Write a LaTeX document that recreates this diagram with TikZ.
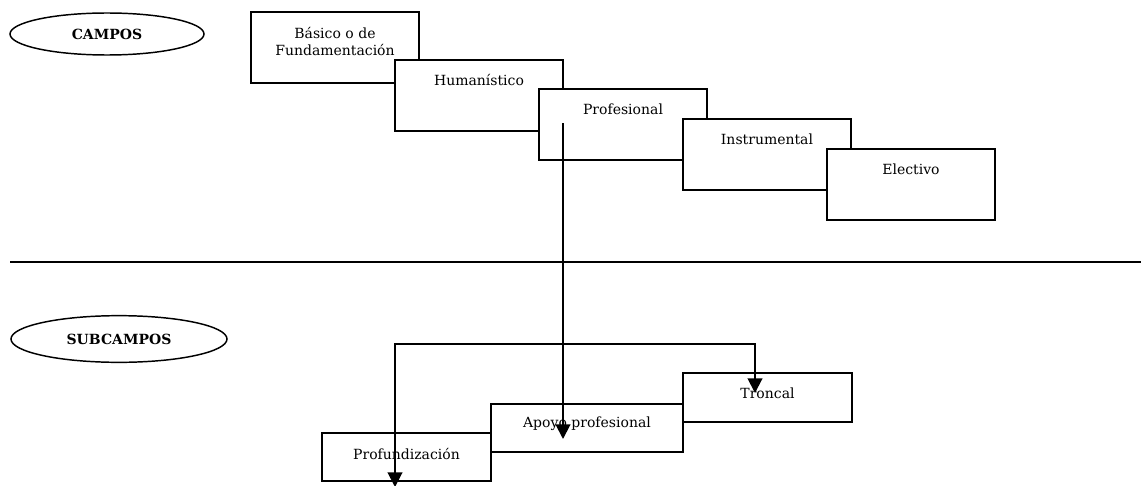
\documentclass[tikz,border=0pt]{standalone}
\usepackage{fontspec}
\setmainfont{DejaVu Serif}
\usetikzlibrary{arrows.meta, shapes.geometric}

\begin{document}
\begin{tikzpicture}[x=0.75pt, y=-0.75pt,
    caja/.style={draw, line width=1.5pt, fill=white, inner sep=0pt,
                 minimum width=126pt, minimum height=53.25pt},
    subcaja/.style={caja, minimum height=36.5pt},
    texto/.style={font=\fontsize{10.5}{12.5}\selectfont, align=center, inner sep=0pt},
    titulo/.style={draw, ellipse, line width=1.1pt, inner sep=0pt,
                   font=\fontsize{10.5}{12.5}\selectfont\bfseries},
    flecha/.style={line width=1.5pt, -{Triangle[width=11pt, length=11pt]}}]

    \useasboundingbox (0,0) rectangle (1141,485);

    % the two headings
    \node[titulo, minimum width=145.5pt, minimum height=31.5pt] (campos) at (107,34) {CAMPOS};
    \node[titulo, minimum width=162pt, minimum height=35pt] (subcampos) at (119,339) {SUBCAMPOS};

    % campos, each one stepping down to the right
    \foreach \n/\x/\y in {basico/335/47.5, humanistico/479/95.5, profesional/623/124.5,
                          instrumental/767/154.5, electivo/911/184} {
        \node[caja] (\n) at (\x,\y) {};
    }
    \node[texto] (basicotxt) at (335,41.5) {Básico o de\\Fundamentación};
    \node[texto] (humanisticotxt) at (479,80) {Humanístico};
    \node[texto] (profesionaltxt) at (623,109) {Profesional};
    \node[texto] (instrumentaltxt) at (767,139) {Instrumental};
    \node[texto] (electivotxt) at (911,169) {Electivo};

    \draw[line width=1.5pt] (10,262) -- (1141,262);

    % subcampos
    \node[subcaja, minimum width=126.75pt, minimum height=36pt] (profundizacion) at (406.5,457) {};
    \node[subcaja, minimum width=144pt, minimum height=36pt] (apoyo) at (587,428) {};
    \node[subcaja, minimum width=126.75pt] (troncal) at (767.5,397.5) {};
    \node[texto] (profundizaciontxt) at (406.5,454) {Profundización};
    \node[texto] (apoyotxt) at (587,424) {Apoyo profesional};
    \node[texto] (troncaltxt) at (767.5,393) {Troncal};

    % connectors
    \coordinate (salida) at (563,123);
    \coordinate (llegada) at (563,439);
    \coordinate (cruce) at (563,344);
    \coordinate (haciaprof) at (395,487);
    \coordinate (haciatroncal) at (755,393);
    \draw[flecha] (salida) -- (llegada);
    \draw[flecha] (cruce) -| (haciaprof);
    \draw[flecha] (cruce) -| (haciatroncal);
\end{tikzpicture}
\end{document}
